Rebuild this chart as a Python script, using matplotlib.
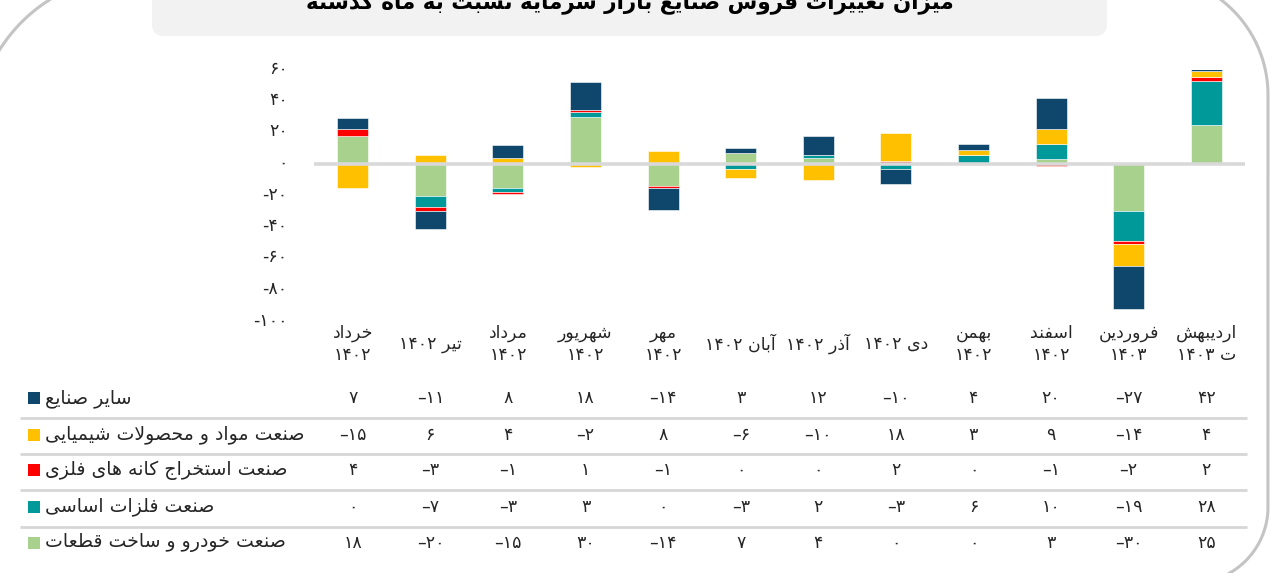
import numpy as np
import matplotlib
matplotlib.use("Agg")
import matplotlib.pyplot as plt
from matplotlib.transforms import blended_transform_factory, ScaledTranslation
from matplotlib.patches import FancyBboxPatch, Rectangle
from matplotlib.path import Path
from matplotlib.patches import PathPatch

# ---------------- data ----------------
title = "میزان تغییرات فروش صنایع بازار سرمایه نسبت به ماه گذشته"
categories = ["خرداد\n۱۴۰۲", "تیر ۱۴۰۲", "مرداد\n۱۴۰۲", "شهریور\n۱۴۰۲", "مهر\n۱۴۰۲",
              "آبان ۱۴۰۲", "آذر ۱۴۰۲", "دی ۱۴۰۲", "بهمن\n۱۴۰۲", "اسفند\n۱۴۰۲",
              "فروردین\n۱۴۰۳", "اردیبهش\nت ۱۴۰۳"]
series_names = ["سایر صنایع", "صنعت مواد و محصولات شیمیایی", "صنعت استخراج کانه های فلزی",
                "صنعت فلزات اساسی", "صنعت خودرو و ساخت قطعات"]
sayer = [7, -11, 8, 18, -14, 3, 12, -10, 4, 20, -27, 42]
shimiyai = [-15, 6, 4, -2, 8, -6, -10, 18, 3, 9, -14, 4]
estekhraj = [4, -3, -1, 1, -1, 0, 0, 2, 0, -1, -2, 2]
felezat = [0, -7, -3, 3, 0, -3, 2, -3, 6, 10, -19, 28]
khodro = [18, -20, -15, 30, -14, 7, 4, 0, 0, 3, -30, 25]
yticks = [-100, -80, -60, -40, -20, 0, 20, 40, 60]

table_rows = [sayer, shimiyai, estekhraj, felezat, khodro]
colors = ["#0e476b", "#ffc000", "#ff0000", "#009999", "#a9d18e"]
# stacking order from the zero line outward
stack_order = [4, 3, 2, 1, 0]

# ---------------- minimal Persian shaping / bidi ----------------
DUAL = {'ب': 0xFE8F, 'ت': 0xFE95, 'ث': 0xFE99, 'ج': 0xFE9D, 'ح': 0xFEA1, 'خ': 0xFEA5,
        'س': 0xFEB1, 'ش': 0xFEB5, 'ص': 0xFEB9, 'ض': 0xFEBD, 'ط': 0xFEC1, 'ظ': 0xFEC5,
        'ع': 0xFEC9, 'غ': 0xFECD, 'ف': 0xFED1, 'ق': 0xFED5, 'ل': 0xFEDD, 'م': 0xFEE1,
        'ن': 0xFEE5, 'ه': 0xFEE9, 'ی': 0xFBFC, 'ک': 0xFB8E, 'گ': 0xFB92, 'پ': 0xFB56,
        'چ': 0xFB7A}
RONLY = {'ا': 0xFE8D, 'آ': 0xFE81, 'د': 0xFEA9, 'ذ': 0xFEAB, 'ر': 0xFEAD, 'ز': 0xFEAF,
         'و': 0xFEED, 'ژ': 0xFB8A}


def _jt(c):
    if c in DUAL:
        return 'D'
    if c in RONLY:
        return 'R'
    return 'U'


def _shape(s):
    out = []
    i, n = 0, len(s)
    while i < n:
        c = s[i]
        t = _jt(c)
        pc = i > 0 and _jt(s[i - 1]) == 'D'
        if c == 'ل' and i + 1 < n and s[i + 1] in 'اآ':
            lig = {'ا': (0xFEFB, 0xFEFC), 'آ': (0xFEF5, 0xFEF6)}[s[i + 1]]
            out.append(chr(lig[1] if pc else lig[0]))
            i += 2
            continue
        if t == 'U':
            out.append(c)
            i += 1
            continue
        nc = t == 'D' and i + 1 < n and _jt(s[i + 1]) in ('D', 'R')
        base = DUAL.get(c, RONLY.get(c))
        if pc and nc:
            f = base + 3
        elif pc:
            f = base + 1
        elif nc:
            f = base + 2
        else:
            f = base
        out.append(chr(f))
        i += 1
    return ''.join(out)


def _is_ltr(ch):
    return ch.isdigit() or ('a' <= ch.lower() <= 'z')


def fa_line(s):
    sh = _shape(s)
    runs = []
    for ch in sh:
        l = _is_ltr(ch)
        if runs and runs[-1][0] == l:
            runs[-1][1] += ch
        else:
            runs.append([l, ch])
    return ''.join(r if l else r[::-1] for l, r in reversed(runs))


def fa(s):
    return '\n'.join(fa_line(x) for x in s.split('\n'))


PD = str.maketrans('0123456789', '۰۱۲۳۴۵۶۷۸۹')


def fnum(v, dash='–'):
    s = str(abs(v)).translate(PD)
    return (dash + s) if v < 0 else s


# ---------------- figure ----------------
W, H = 1279, 573
plt.rcParams['font.family'] = ['DejaVu Sans']
fig = plt.figure(figsize=(W / 100, H / 100), dpi=100)
fig.patch.set_facecolor('white')
TXT = '#262626'

bg = fig.add_axes([0, 0, 1, 1], zorder=0)
bg.set_xlim(0, W)
bg.set_ylim(H, 0)
bg.axis('off')

# outer rounded frame (corners of different radius)
Lx, Rx, Ty, By = -25, 1268, -25, 583
r_tl, r_tr, r_br, r_bl = 160, 120, 76, 50
pts = []
for a in np.linspace(np.pi, 1.5 * np.pi, 40):          # top-left
    pts.append((Lx + r_tl + r_tl * np.cos(a), Ty + r_tl + r_tl * np.sin(a)))
for a in np.linspace(1.5 * np.pi, 2 * np.pi, 40):      # top-right
    pts.append((Rx - r_tr + r_tr * np.cos(a), Ty + r_tr + r_tr * np.sin(a)))
for a in np.linspace(0, 0.5 * np.pi, 40):              # bottom-right
    pts.append((Rx - r_br + r_br * np.cos(a), By - r_br + r_br * np.sin(a)))
for a in np.linspace(0.5 * np.pi, np.pi, 40):          # bottom-left
    pts.append((Lx + r_bl + r_bl * np.cos(a), By - r_bl + r_bl * np.sin(a)))
pts.append(pts[0])
bg.add_patch(PathPatch(Path(pts), facecolor='none', edgecolor='#c4c4c4', lw=2.2))

# title box
bg.add_patch(FancyBboxPatch((152, -40), 1107 - 152, 76, boxstyle="round,pad=0,rounding_size=12",
                            facecolor='#f2f2f2', edgecolor='none'))
bg.text(630, 1, fa(title), ha='center', va='center', fontsize=15.5, fontweight='bold', color='black')

# ---------------- main chart ----------------
ax_l, ax_r, ax_t, ax_b = 314, 1245, 69.5, 321.5
ax = fig.add_axes([ax_l / W, 1 - ax_b / H, (ax_r - ax_l) / W, (ax_b - ax_t) / H], zorder=1)
ax.patch.set_alpha(0)
x = np.arange(len(categories))
pos_b = np.zeros(len(x))
neg_b = np.zeros(len(x))
for si in stack_order:
    vals = np.array(table_rows[si], dtype=float)
    bottoms = np.where(vals >= 0, pos_b, neg_b)
    ax.bar(x, vals, width=0.4, bottom=bottoms, color=colors[si], edgecolor='white', linewidth=0.4)
    pos_b += np.where(vals > 0, vals, 0)
    neg_b += np.where(vals < 0, vals, 0)
ax.axhline(0, color='#d9d9d9', lw=2.6, zorder=5)
ax.set_xlim(-0.5, len(x) - 0.5)
ax.set_ylim(-100, 60)
ax.set_yticks(yticks)
ax.set_yticklabels([fnum(v, '-') for v in yticks], fontsize=12.5, color=TXT)
ax.tick_params(axis='y', length=0, pad=19)
shift = ScaledTranslation(0, 0.03, fig.dpi_scale_trans)
for lab in ax.get_yticklabels():
    lab.set_transform(lab.get_transform() + shift)
ax.set_xticks([])
for s in ax.spines.values():
    s.set_visible(False)

tr = blended_transform_factory(ax.transData, bg.transData)
for i, c in enumerate(categories):
    ax.text(i, 344, fa(c), transform=tr, ha='center', va='center', fontsize=12.5,
            color=TXT, linespacing=1.25, multialignment='center')

# ---------------- data table ----------------
row_y = [398, 435, 470, 506.5, 542.5]
for ly in [418, 454, 490, 526.5]:
    bg.plot([20, 1247], [ly, ly], color='#d6d6d6', lw=2, solid_capstyle='butt')
for r, (name, vals) in enumerate(zip(series_names, table_rows)):
    y = row_y[r]
    bg.add_patch(Rectangle((28, y - 6), 12, 12, facecolor=colors[r], edgecolor='none'))
    bg.text(45, y, fa(name), ha='left', va='center', fontsize=13.6, color=TXT)
    for i, v in enumerate(vals):
        bg.text(i, y, fnum(v), transform=tr, ha='center', va='center', fontsize=12.5, color=TXT)

fig.savefig('out.png', dpi=100, facecolor='white')
